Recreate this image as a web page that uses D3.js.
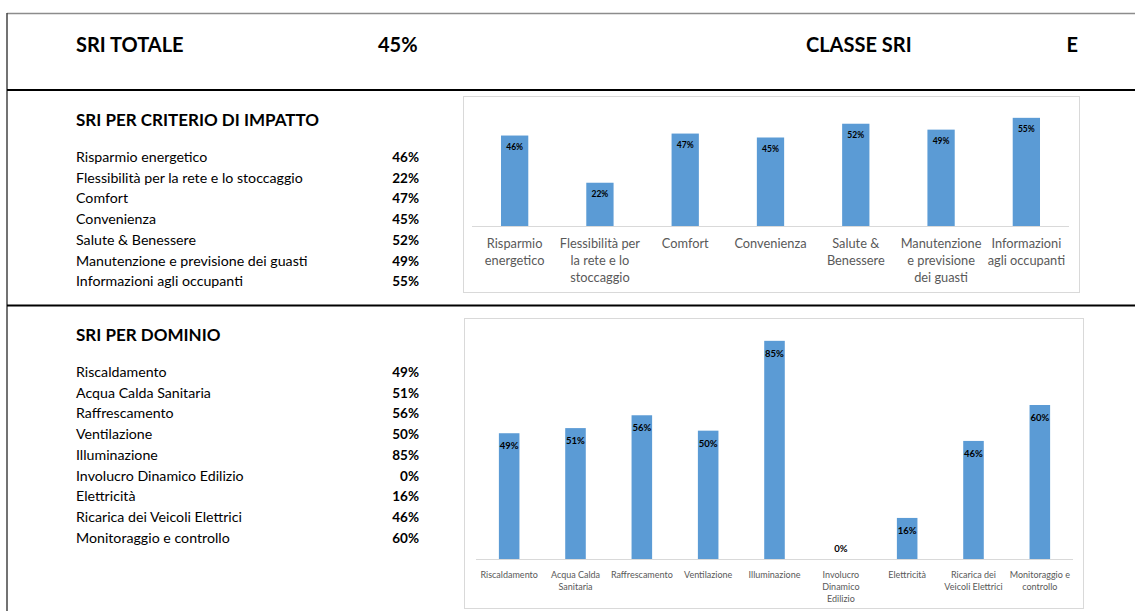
<!DOCTYPE html>
<html>
<head>
<meta charset="utf-8">
<script src="https://cdn.jsdelivr.net/npm/d3@7"></script>
<style>
  html, body { margin: 0; padding: 0; background: #fff; }
  svg { display: block; font-family: Lato, "Open Sans", sans-serif; }
</style>
</head>
<body>
<svg id="sheet" width="1135" height="611"></svg>
<script>
// Summary figures
const sriTotal = "45%";
const sriClass = "E";

// Impact criteria
const criteriaLabels = [
  "Risparmio energetico",
  "Flessibilità per la rete e lo stoccaggio",
  "Comfort",
  "Convenienza",
  "Salute & Benessere",
  "Manutenzione e previsione dei guasti",
  "Informazioni agli occupanti"
];
const criteriaAxisLabels = [
  ["Risparmio", "energetico"],
  ["Flessibilità per", "la rete e lo", "stoccaggio"],
  ["Comfort"],
  ["Convenienza"],
  ["Salute &", "Benessere"],
  ["Manutenzione", "e previsione", "dei guasti"],
  ["Informazioni", "agli occupanti"]
];
const criteriaValues = [0.46, 0.22, 0.47, 0.45, 0.52, 0.49, 0.55];

// Domains
const domainLabels = [
  "Riscaldamento",
  "Acqua Calda Sanitaria",
  "Raffrescamento",
  "Ventilazione",
  "Illuminazione",
  "Involucro Dinamico Edilizio",
  "Elettricità",
  "Ricarica dei Veicoli Elettrici",
  "Monitoraggio e controllo"
];
const domainAxisLabels = [
  ["Riscaldamento"],
  ["Acqua Calda", "Sanitaria"],
  ["Raffrescamento"],
  ["Ventilazione"],
  ["Illuminazione"],
  ["Involucro", "Dinamico", "Edilizio"],
  ["Elettricità"],
  ["Ricarica dei", "Veicoli Elettrici"],
  ["Monitoraggio e", "controllo"]
];
const domainValues = [0.49, 0.51, 0.56, 0.50, 0.85, 0.00, 0.16, 0.46, 0.60];

const pct = d3.format(".0%");
const svg = d3.select("#sheet");
const BAR = "#5b9bd5";

// ---- sheet frame ----
svg.append("line").attr("x1", 7).attr("x2", 1135).attr("y1", 13.5).attr("y2", 13.5)
  .attr("stroke", "#8c8c8c").attr("stroke-width", 1.5);
svg.append("line").attr("x1", 7).attr("x2", 7).attr("y1", 13).attr("y2", 611)
  .attr("stroke", "#444").attr("stroke-width", 1.5);
svg.append("line").attr("x1", 7).attr("x2", 1135).attr("y1", 90).attr("y2", 90)
  .attr("stroke", "#000").attr("stroke-width", 2);
svg.append("line").attr("x1", 7).attr("x2", 1135).attr("y1", 305.5).attr("y2", 305.5)
  .attr("stroke", "#000").attr("stroke-width", 2);

// ---- header row ----
const head = svg.append("g").attr("font-weight", 700).attr("font-size", 20).attr("fill", "#000");
head.append("text").attr("x", 76).attr("y", 52).text("SRI TOTALE");
head.append("text").attr("x", 378).attr("y", 52).text(sriTotal);
head.append("text").attr("x", 806).attr("y", 52).text("CLASSE SRI");
head.append("text").attr("x", 1078).attr("y", 52).attr("text-anchor", "end").text(sriClass);

// ---- left tables ----
function table(title, titleY, labels, values, firstY, step) {
  const g = svg.append("g");
  g.append("text").attr("x", 76).attr("y", titleY)
    .attr("font-weight", 700).attr("font-size", 17).text(title);
  const rows = g.selectAll("g.row").data(labels).join("g").attr("class", "row")
    .attr("transform", (d, i) => `translate(0,${firstY + i * step})`);
  rows.append("text").attr("x", 76).attr("font-size", 14.2).text(d => d);
  rows.append("text").attr("x", 419).attr("text-anchor", "end")
    .attr("font-size", 13.5).attr("font-weight", 700)
    .text((d, i) => pct(values[i]));
}
table("SRI PER CRITERIO DI IMPATTO", 126, criteriaLabels, criteriaValues, 162, 20.7);
table("SRI PER DOMINIO", 341, domainLabels, domainValues, 377, 20.7);

// ---- bar charts ----
function barChart(opts) {
  const { box, plot, labels, axisLabels, values, yMax, barFrac, valueSize, valueOffset, labelSize, lineGap, labelTop } = opts;
  svg.append("rect").attr("x", box.x + 0.5).attr("y", box.y + 0.5)
    .attr("width", box.w).attr("height", box.h)
    .attr("fill", "#fff").attr("stroke", "#d9d9d9");

  const x = d3.scaleBand().domain(labels).range([plot.x0, plot.x1]).paddingInner(1 - barFrac).paddingOuter((1 - barFrac) / 2);
  const y = d3.scaleLinear().domain([0, yMax]).range([plot.base, plot.top]);

  const g = svg.append("g");
  g.selectAll("rect.bar").data(values).join("rect").attr("class", "bar")
    .attr("x", (d, i) => x(labels[i]))
    .attr("width", x.bandwidth())
    .attr("y", d => y(d))
    .attr("height", d => y(0) - y(d))
    .attr("fill", BAR);

  // baseline
  g.append("line").attr("x1", plot.x0).attr("x2", plot.x1)
    .attr("y1", y(0) + 0.5).attr("y2", y(0) + 0.5)
    .attr("stroke", "#d9d9d9").attr("stroke-width", 1);

  // value labels at the inside end of each bar
  g.selectAll("text.val").data(values).join("text").attr("class", "val")
    .attr("x", (d, i) => x(labels[i]) + x.bandwidth() / 2)
    .attr("y", d => d === 0 ? y(0) - 7 : y(d) + valueOffset)
    .attr("text-anchor", "middle")
    .attr("font-size", valueSize).attr("font-weight", 700).attr("fill", "#000")
    .text(d => pct(d));

  // category labels
  const cats = g.selectAll("text.cat").data(axisLabels).join("text").attr("class", "cat")
    .attr("text-anchor", "middle").attr("font-size", labelSize).attr("fill", "#595959")
    .attr("transform", (d, i) => `translate(${x(labels[i]) + x.bandwidth() / 2},${labelTop})`);
  cats.selectAll("tspan").data(d => d).join("tspan")
    .attr("x", 0).attr("y", (d, j) => j * lineGap).text(d => d);
}

barChart({
  box: { x: 463, y: 96, w: 616, h: 196 },
  plot: { x0: 472, x1: 1069, base: 226, top: 108 },
  labels: criteriaLabels, axisLabels: criteriaAxisLabels, values: criteriaValues,
  yMax: 0.6, barFrac: 0.32, valueSize: 8.5, valueOffset: 14.5, labelSize: 12.8, lineGap: 17, labelTop: 248
});

barChart({
  box: { x: 464, y: 318, w: 619, h: 290 },
  plot: { x0: 476, x1: 1073, base: 559, top: 328 },
  labels: domainLabels, axisLabels: domainAxisLabels, values: domainValues,
  yMax: 0.9, barFrac: 0.31, valueSize: 9.5, valueOffset: 16, labelSize: 9, lineGap: 12, labelTop: 578
});
</script>
</body>
</html>
